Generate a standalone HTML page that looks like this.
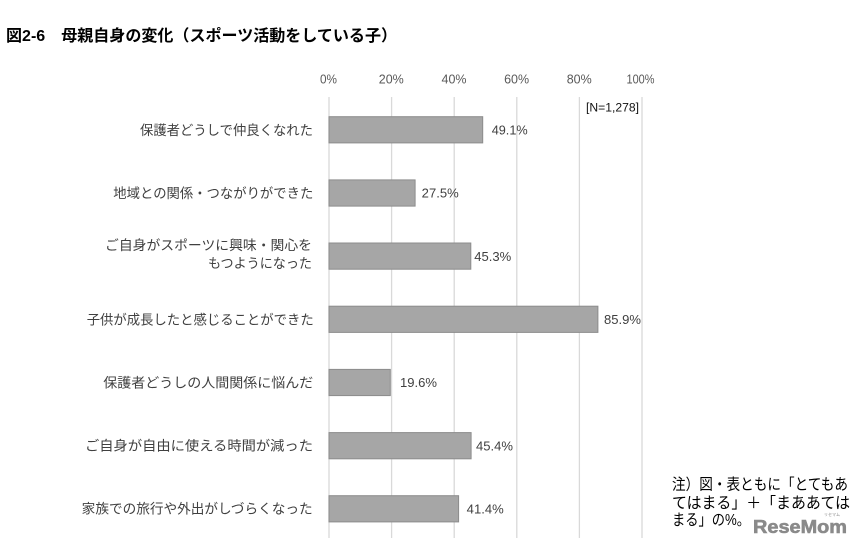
<!DOCTYPE html>
<html>
<head>
<meta charset="utf-8">
<style>
html,body{margin:0;padding:0;background:#fff;}
svg{display:block;}
text{font-family:"Liberation Sans","Noto Sans CJK JP",sans-serif;}
</style>
</head>
<body>
<svg width="864" height="548" viewBox="0 0 864 548" xmlns="http://www.w3.org/2000/svg">
<rect width="864" height="548" fill="#fff"/>
<!-- Title -->
<text x="6" y="41" font-size="16" font-weight="bold" fill="#000" textLength="391" lengthAdjust="spacingAndGlyphs">図2-6　母親自身の変化（スポーツ活動をしている子）</text>

<!-- gridlines -->
<g stroke="#d9d9d9" stroke-width="1.3">
<line x1="329" y1="97" x2="329" y2="538"/>
<line x1="391.6" y1="97" x2="391.6" y2="538"/>
<line x1="454.2" y1="97" x2="454.2" y2="538"/>
<line x1="516.8" y1="97" x2="516.8" y2="538"/>
<line x1="579.4" y1="97" x2="579.4" y2="538"/>
<line x1="642" y1="97" x2="642" y2="538"/>
</g>

<!-- tick labels -->
<g font-size="12.5" fill="#595959" text-anchor="middle">
<text x="328.5" y="83.5" textLength="17" lengthAdjust="spacingAndGlyphs">0%</text>
<text x="391.3" y="83.5" textLength="25" lengthAdjust="spacingAndGlyphs">20%</text>
<text x="454" y="83.5" textLength="25" lengthAdjust="spacingAndGlyphs">40%</text>
<text x="516.6" y="83.5" textLength="25" lengthAdjust="spacingAndGlyphs">60%</text>
<text x="579.2" y="83.5" textLength="25" lengthAdjust="spacingAndGlyphs">80%</text>
<text x="640.5" y="83.5" textLength="28" lengthAdjust="spacingAndGlyphs">100%</text>
</g>

<text x="586" y="111.5" font-size="11.5" fill="#111" textLength="53" lengthAdjust="spacingAndGlyphs">[N=1,278]</text>

<!-- bars -->
<g fill="#a6a6a6" stroke="#8c8c8c" stroke-width="1">
<rect x="329" y="116.7" width="153.7" height="26.2"/>
<rect x="329" y="179.9" width="86.1" height="26.2"/>
<rect x="329" y="243.0" width="141.8" height="26.2"/>
<rect x="329" y="306.2" width="268.9" height="26.2"/>
<rect x="329" y="369.4" width="61.3" height="26.2"/>
<rect x="329" y="432.6" width="142.1" height="26.2"/>
<rect x="329" y="495.7" width="129.6" height="26.2"/>
</g>

<!-- value labels -->
<g font-size="13" fill="#404040">
<text x="491.7" y="134.5" textLength="36" lengthAdjust="spacingAndGlyphs">49.1%</text>
<text x="421.7" y="197.7" textLength="37" lengthAdjust="spacingAndGlyphs">27.5%</text>
<text x="474.3" y="260.8" textLength="37" lengthAdjust="spacingAndGlyphs">45.3%</text>
<text x="604" y="324" textLength="37" lengthAdjust="spacingAndGlyphs">85.9%</text>
<text x="400" y="387.2" textLength="37" lengthAdjust="spacingAndGlyphs">19.6%</text>
<text x="476" y="450.4" textLength="37" lengthAdjust="spacingAndGlyphs">45.4%</text>
<text x="466.7" y="513.5" textLength="37" lengthAdjust="spacingAndGlyphs">41.4%</text>
</g>

<!-- category labels -->
<g font-size="13.5" fill="#404040">
<text x="140" y="135" textLength="173" lengthAdjust="spacingAndGlyphs">保護者どうしで仲良くなれた</text>
<text x="113.3" y="198" textLength="200" lengthAdjust="spacingAndGlyphs">地域との関係・つながりができた</text>
<text x="105" y="250" textLength="207" lengthAdjust="spacingAndGlyphs">ご自身がスポーツに興味・関心を</text>
<text x="208" y="268" textLength="104" lengthAdjust="spacingAndGlyphs">もつようになった</text>
<text x="86.7" y="324.5" textLength="227" lengthAdjust="spacingAndGlyphs">子供が成長したと感じることができた</text>
<text x="103.3" y="387.5" textLength="210" lengthAdjust="spacingAndGlyphs">保護者どうしの人間関係に悩んだ</text>
<text x="85" y="450.7" textLength="228" lengthAdjust="spacingAndGlyphs">ご自身が自由に使える時間が減った</text>
<text x="81.7" y="513.7" textLength="231" lengthAdjust="spacingAndGlyphs">家族での旅行や外出がしづらくなった</text>
</g>

<!-- note -->
<g font-size="15.5" fill="#000">
<text x="672" y="489.5" textLength="176" lengthAdjust="spacingAndGlyphs">注）図・表ともに「とてもあ</text>
<text x="672" y="508" textLength="178" lengthAdjust="spacingAndGlyphs">てはまる」＋「まああては</text>
<text x="672" y="525" textLength="78" lengthAdjust="spacingAndGlyphs">まる」の%。</text>
</g>

<!-- watermark -->
<text x="753" y="533" font-size="18.5" font-weight="bold" fill="#8a8a8a" stroke="#8a8a8a" stroke-width="0.6" textLength="94" lengthAdjust="spacingAndGlyphs">ReseMom</text>
<text x="832" y="516" font-size="4" fill="#8c8c8c" text-anchor="middle">リセマム</text>
</svg>
</body>
</html>
